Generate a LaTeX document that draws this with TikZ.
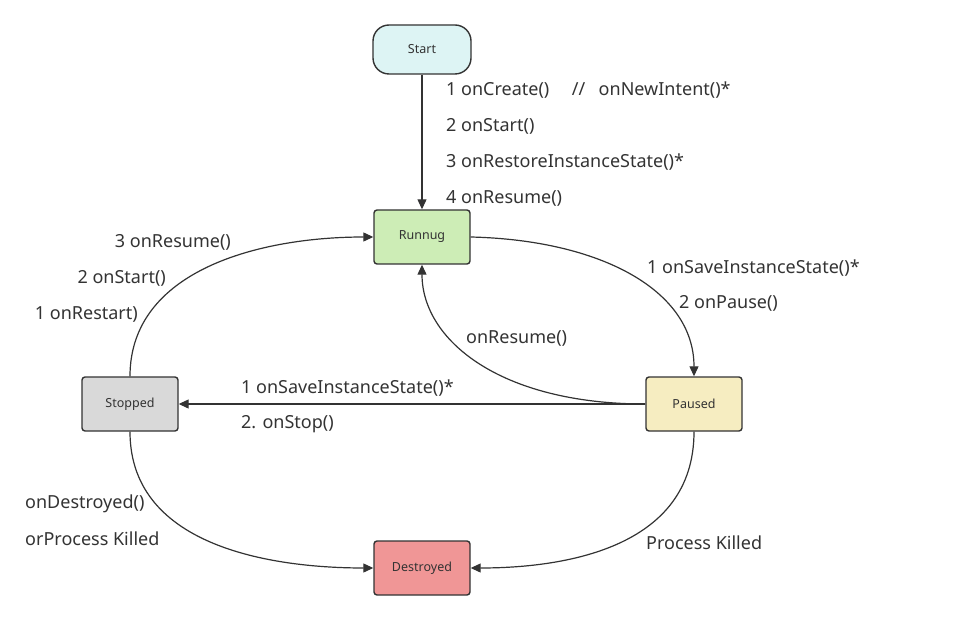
\documentclass[tikz,border=0pt]{standalone}
\usepackage{fontspec}
\setmainfont{Noto Sans}
\usetikzlibrary{arrows.meta}
\definecolor{cStart}{HTML}{DDF4F4}
\definecolor{cRun}{HTML}{CDEDB6}
\definecolor{cStop}{HTML}{D9D9D9}
\definecolor{cPause}{HTML}{F6EDC1}
\definecolor{cDest}{HTML}{F09696}
\definecolor{cLine}{HTML}{333333}
\definecolor{cText}{HTML}{333333}
\tikzset{
  state/.style={draw=cLine, line width=1.4pt, rounded corners=3pt, minimum width=96pt, minimum height=54pt, inner sep=0pt, font=\fontsize{12.5}{14}\selectfont, text=cText},
  conn/.style={draw=cLine, line width=1.2pt, -{Triangle[length=10pt,width=9pt]}},
  lab/.style={anchor=west, inner sep=0pt, font=\fontsize{18}{21}\selectfont, text=cText},
  labr/.style={anchor=east, inner sep=0pt, font=\fontsize{18}{21}\selectfont, text=cText}
}
\begin{document}
\begin{tikzpicture}[x=1pt,y=-1pt]
\useasboundingbox (0,0) rectangle (961,620);
\node[state, fill=cStart, rounded corners=16pt, minimum width=98pt, minimum height=49pt] (start) at (422,49.5) {Start};
\node[state, fill=cRun] (run) at (422,237) {Runnug};
\node[state, fill=cStop] (stop) at (130,404) {Stopped};
\node[state, fill=cPause] (pause) at (694,404) {Paused};
\node[state, fill=cDest] (dest) at (422,568) {Destroyed};

\draw[conn] (start.south) -- (run.north);
\draw[conn] (run.east) .. controls (600,240) and (694,290) .. (pause.north);
\draw[conn] (pause.west) .. controls (500,404) and (422,340) .. (run.south);
\draw[conn] (pause.west) -- (stop.east);
\draw[conn] (stop.north) .. controls (130,270) and (260,237) .. (run.west);
\draw[conn] (stop.south) .. controls (130,550) and (280,568) .. (dest.west);
\draw[conn] (pause.south) .. controls (694,550) and (560,568) .. (dest.east);

\node[lab] (l1) at (446,90) {1 onCreate()\hspace{1.25em}//\hspace{0.75em}onNewIntent()*};
\node[lab] (l2) at (446,126) {2 onStart()};
\node[lab] (l3) at (446,162) {3 onRestoreInstanceState()*};
\node[lab] (l4) at (446,198) {4 onResume()};
\node[labr] (l5) at (231,242) {3 onResume()};
\node[labr] (l6) at (166,278) {2 onStart()};
\node[labr] (l7) at (138,314) {1 onRestart)};
\node[lab] (l8) at (647,268) {1 onSaveInstanceState()*};
\node[lab] (l9) at (679,303) {2 onPause()};
\node[lab] (l10) at (466,338) {onResume()};
\node[lab] (l11) at (241,388) {1 onSaveInstanceState()*};
\node[lab] (l12) at (241,424) {2. onStop()};
\node[lab] (l13) at (25,504) {onDestroyed()};
\node[lab] (l14) at (25,539) {orProcess Killed};
\node[lab] (l15) at (646,543) {Process Killed};
\end{tikzpicture}
\end{document}
